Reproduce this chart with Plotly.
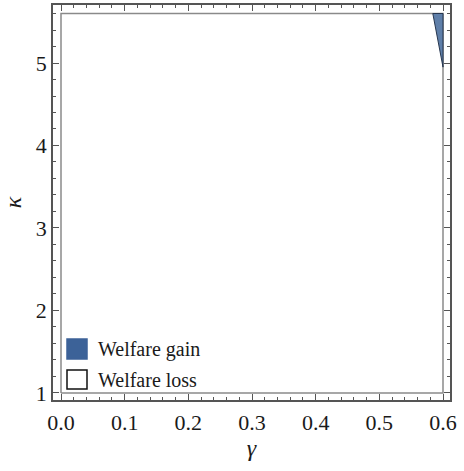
import plotly.graph_objects as go

# Data
region_gamma = [0.0, 0.6, 0.6, 0.0, 0.0]          # welfare-loss region (whole domain)
region_kappa = [1.0, 1.0, 5.6, 5.6, 1.0]
gain_gamma = [0.584, 0.6, 0.6, 0.584]             # welfare-gain region
gain_kappa = [5.6, 5.6, 4.95, 5.6]
legend_names = ["Welfare gain", "Welfare loss"]
x_ticks = [0.0, 0.1, 0.2, 0.3, 0.4, 0.5, 0.6]
x_tick_labels = ["0.0", "0.1", "0.2", "0.3", "0.4", "0.5", "0.6"]
y_ticks = [1, 2, 3, 4, 5]
y_tick_labels = ["1", "2", "3", "4", "5"]

GAIN_FILL = "#5f7fa9"
GAIN_SWATCH = "#3c6298"
FONT = "Times New Roman, Liberation Serif, DejaVu Serif, serif"

fig = go.Figure()
fig.add_trace(go.Scatter(x=region_gamma, y=region_kappa, mode="lines", fill="toself",
                         fillcolor="white", line=dict(color="#8a8a8a", width=1.5),
                         name=legend_names[1], showlegend=False, hoverinfo="skip"))
fig.add_trace(go.Scatter(x=gain_gamma, y=gain_kappa, mode="lines", fill="toself",
                         fillcolor=GAIN_FILL, line=dict(color="#26364f", width=1),
                         name=legend_names[0], showlegend=False, hoverinfo="skip"))

W, H = 464, 471
L, R, T, B = 53, 14, 5, 71

axis_common = dict(showgrid=False, zeroline=False, showline=True, linecolor="#555555",
                   linewidth=1.5, mirror="allticks", ticks="inside", ticklen=6,
                   tickcolor="#555555", tickwidth=1, automargin=False,
                   tickfont=dict(family=FONT, size=22, color="#1a1a1a"))

fig.update_xaxes(range=[-0.01257, 0.611], tickvals=x_ticks, ticktext=x_tick_labels,
                 ticklabelstandoff=2,
                 minor=dict(dtick=0.02, tick0=0, ticks="inside", ticklen=3.5,
                            tickcolor="#555555", tickwidth=1, showgrid=False),
                 title=dict(text="<i>γ</i>", font=dict(family=FONT, size=24, color="#1a1a1a"),
                            standoff=2),
                 **axis_common)
fig.update_yaxes(range=[0.915, 5.703], tickvals=y_ticks, ticktext=y_tick_labels,
                 minor=dict(dtick=0.2, tick0=1, ticks="inside", ticklen=3.5,
                            tickcolor="#555555", tickwidth=1, showgrid=False),
                 title=dict(text="<i>κ</i>", font=dict(family=FONT, size=24, color="#1a1a1a"),
                            standoff=10),
                 **axis_common)

# Legend drawn as swatches + labels (pixel -> paper conversion)
pw, ph = W - L - R, H - T - B
def px(x):
    return (x - L) / pw
def py(y):
    return 1 - (y - T) / ph

swatches = [(339, 359, GAIN_SWATCH, "#3c6298"), (370, 389, "white", "#111111")]
for (y0, y1, fc, lc), name in zip(swatches, legend_names):
    fig.add_shape(type="rect", xref="paper", yref="paper",
                  x0=px(67), x1=px(87), y0=py(y1), y1=py(y0),
                  fillcolor=fc, line=dict(color=lc, width=1.5))
    fig.add_annotation(xref="paper", yref="paper", x=px(96), y=py((y0 + y1) / 2),
                       text=name, showarrow=False, xanchor="left", yanchor="middle",
                       font=dict(family=FONT, size=20, color="#1a1a1a"))

fig.update_layout(width=W, height=H, margin=dict(l=L, r=R, t=T, b=B),
                  plot_bgcolor="white", paper_bgcolor="white", showlegend=False)

fig.write_html("out.html", config={"displayModeBar": False},
               post_script="document.body.style.margin='0';document.body.style.padding='0';")
